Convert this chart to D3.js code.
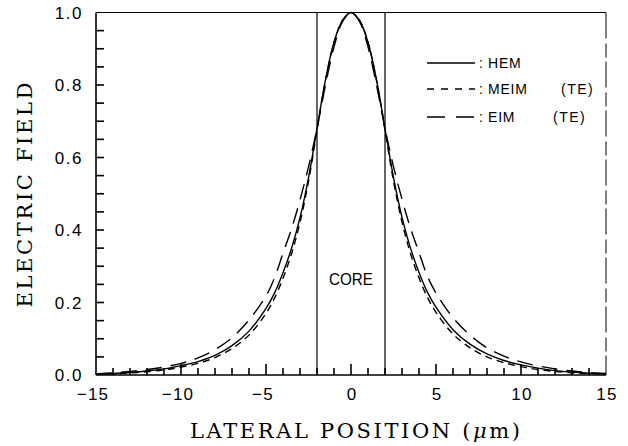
<!DOCTYPE html>
<html>
<head>
<meta charset="utf-8">
<script src="https://cdn.jsdelivr.net/npm/d3@7"></script>
<style>
  html, body { margin: 0; padding: 0; background: #fff; }
  svg { display: block; }
</style>
</head>
<body>
<svg id="chart" width="628" height="446"></svg>
<script>
// Lateral position (µm) of each sample
const positions = [-15, -14, -13, -12, -11, -10, -9, -8, -7, -6, -5, -4.5, -4, -3.5, -3, -2.5, -2, -1.5, -1, -0.5,
  0, 0.5, 1, 1.5, 2, 2.5, 3, 3.5, 4, 4.5, 5, 6, 7, 8, 9, 10, 11, 12, 13, 14, 15];

// Normalised electric field of the three methods
const hem = [0.002, 0.004, 0.007, 0.011, 0.017, 0.026, 0.037, 0.054, 0.081, 0.121, 0.184, 0.226, 0.282, 0.349, 0.434, 0.544, 0.68, 0.815, 0.918, 0.978,
  1.0, 0.978, 0.918, 0.815, 0.68, 0.545, 0.435, 0.35, 0.283, 0.228, 0.187, 0.125, 0.085, 0.058, 0.04, 0.028, 0.019, 0.012, 0.008, 0.005, 0.003];
const meim = [0.002, 0.003, 0.006, 0.009, 0.014, 0.022, 0.032, 0.048, 0.073, 0.11, 0.17, 0.212, 0.267, 0.334, 0.421, 0.534, 0.675, 0.812, 0.917, 0.978,
  1.0, 0.978, 0.917, 0.812, 0.675, 0.535, 0.422, 0.335, 0.268, 0.214, 0.173, 0.113, 0.075, 0.05, 0.034, 0.023, 0.015, 0.01, 0.006, 0.004, 0.002];
const eim = [0.003, 0.006, 0.01, 0.015, 0.022, 0.032, 0.047, 0.07, 0.103, 0.152, 0.218, 0.268, 0.336, 0.403, 0.483, 0.574, 0.68, 0.8, 0.905, 0.975,
  1.0, 0.975, 0.905, 0.8, 0.68, 0.575, 0.485, 0.405, 0.338, 0.272, 0.226, 0.158, 0.11, 0.075, 0.052, 0.036, 0.025, 0.017, 0.011, 0.007, 0.004];

const xTickValues = [-15, -10, -5, 0, 5, 10, 15];
const yTickValues = [0, 0.2, 0.4, 0.6, 0.8, 1.0];
const xMinorTicks = [-14, -13, -12, -11, -10, -9, -8, -7, -6, -5, -4, -3, -2, -1, 0, 1, 2, 3, 4, 5, 6, 7, 8, 9, 10, 11, 12, 13, 14];
const yMinorTicks = [0.05, 0.1, 0.15, 0.2, 0.25, 0.3, 0.35, 0.4, 0.45, 0.5, 0.55, 0.6, 0.65, 0.7, 0.75, 0.8, 0.85, 0.9, 0.95];
const coreEdges = [-2, 2];
const legendNames = ["HEM", "MEIM", "EIM"];
const legendModes = ["", "(TE)", "(TE)"];

const svg = d3.select("#chart");
const plotLeft = 96, plotRight = 606, plotTop = 12.5, plotBottom = 375;

const x = d3.scaleLinear().domain([-15, 15]).range([plotLeft, plotRight]);
const y = d3.scaleLinear().domain([0, 1]).range([plotBottom, plotTop]);

const sans = "'Liberation Sans', Arial, sans-serif";
const serif = "'DejaVu Serif', 'Liberation Serif', serif";

// Frame: top and right edges
svg.append("line")
  .attr("x1", plotLeft).attr("x2", plotRight).attr("y1", plotTop).attr("y2", plotTop)
  .attr("stroke", "#000").attr("stroke-width", 1.1);
svg.append("line")
  .attr("x1", plotRight).attr("x2", plotRight).attr("y1", plotTop).attr("y2", plotBottom)
  .attr("stroke", "#000").attr("stroke-width", 1)
  .attr("stroke-dasharray", "26 5 14 4");

// Axis lines
svg.append("line")
  .attr("x1", plotLeft).attr("x2", plotRight).attr("y1", plotBottom).attr("y2", plotBottom)
  .attr("stroke", "#000").attr("stroke-width", 1.6);
svg.append("line")
  .attr("x1", plotLeft).attr("x2", plotLeft).attr("y1", plotTop).attr("y2", plotBottom)
  .attr("stroke", "#000").attr("stroke-width", 1.6);

// Inward ticks: every 1 µm along the bottom, every 0.05 along the left
const tickLayer = svg.append("g").attr("stroke", "#000").attr("stroke-width", 1.6);
tickLayer.selectAll("line.xt").data(xMinorTicks).join("line")
  .attr("class", "xt")
  .attr("x1", d => x(d)).attr("x2", d => x(d))
  .attr("y1", plotBottom).attr("y2", d => plotBottom - (d % 5 === 0 ? 11 : 7));

tickLayer.selectAll("line.yt").data(yMinorTicks).join("line")
  .attr("class", "yt")
  .attr("x1", plotLeft).attr("x2", plotLeft + 8)
  .attr("y1", d => y(d)).attr("y2", d => y(d));

// Tick labels
const fmtX = d3.format("d");
svg.append("g").selectAll("text").data(xTickValues).join("text")
  .attr("x", d => x(d) + (d < 0 ? -3 : 1))
  .attr("y", 400)
  .attr("text-anchor", "middle")
  .attr("font-family", sans).attr("font-size", 17)
  .attr("letter-spacing", 1.2)
  .text(d => fmtX(d));

const fmtY = d3.format(".1f");
svg.append("g").selectAll("text").data(yTickValues).join("text")
  .attr("x", 83)
  .attr("y", d => y(d) + 6)
  .attr("text-anchor", "end")
  .attr("font-family", sans).attr("font-size", 17)
  .attr("letter-spacing", 1.5)
  .text(d => fmtY(d));

// Core boundaries
svg.append("g").selectAll("line").data(coreEdges).join("line")
  .attr("x1", d => x(d)).attr("x2", d => x(d))
  .attr("y1", plotTop).attr("y2", plotBottom)
  .attr("stroke", "#000").attr("stroke-width", 1.2);

svg.append("text")
  .attr("x", x(0)).attr("y", 285)
  .attr("text-anchor", "middle")
  .attr("font-family", sans).attr("font-size", 16)
  .attr("textLength", 44).attr("lengthAdjust", "spacingAndGlyphs")
  .text("CORE");

// Field profiles
const line = d3.line()
  .x((d, i) => x(positions[i]))
  .y(d => y(d))
  .curve(d3.curveCatmullRom.alpha(0.5));

const series = [
  { values: hem, dash: null },
  { values: meim, dash: "7 5" },
  { values: eim, dash: "16 9" }
];

svg.append("g").selectAll("path").data(series).join("path")
  .attr("d", d => line(d.values))
  .attr("fill", "none")
  .attr("stroke", "#000")
  .attr("stroke-width", 1.4)
  .attr("stroke-dasharray", d => d.dash);

// Legend
const legendY = [63, 89, 117];
const legend = svg.append("g");
series.forEach((s, i) => {
  legend.append("line")
    .attr("x1", 427).attr("x2", 475)
    .attr("y1", legendY[i]).attr("y2", legendY[i])
    .attr("stroke", "#000").attr("stroke-width", 1.3)
    .attr("stroke-dasharray", i === 1 ? "7 7" : (i === 2 ? "18 11" : null));
  legend.append("text")
    .attr("x", 479).attr("y", legendY[i] + 5)
    .attr("font-family", sans).attr("font-size", 14)
    .text(":");
  legend.append("text")
    .attr("x", 488).attr("y", legendY[i] + 5)
    .attr("font-family", sans).attr("font-size", 14)
    .attr("letter-spacing", 0.8)
    .text(legendNames[i]);
  if (legendModes[i]) {
    legend.append("text")
      .attr("x", i === 1 ? 561 : 553).attr("y", legendY[i] + 5)
      .attr("font-family", sans).attr("font-size", 14)
      .attr("letter-spacing", 1.5)
      .text(legendModes[i]);
  }
});

// Axis titles
const xTitle = svg.append("text")
  .attr("x", 190).attr("y", 438)
  .attr("font-family", serif).attr("font-size", 21)
  .attr("textLength", 330).attr("lengthAdjust", "spacing");
xTitle.append("tspan").text("LATERAL POSITION (");
xTitle.append("tspan").attr("font-style", "italic").text("μ");
xTitle.append("tspan").text("m)");

svg.append("text")
  .attr("transform", "translate(32,195) rotate(-90)")
  .attr("text-anchor", "middle")
  .attr("font-family", serif).attr("font-size", 21)
  .attr("textLength", 225).attr("lengthAdjust", "spacing")
  .text("ELECTRIC FIELD");
</script>
</body>
</html>
